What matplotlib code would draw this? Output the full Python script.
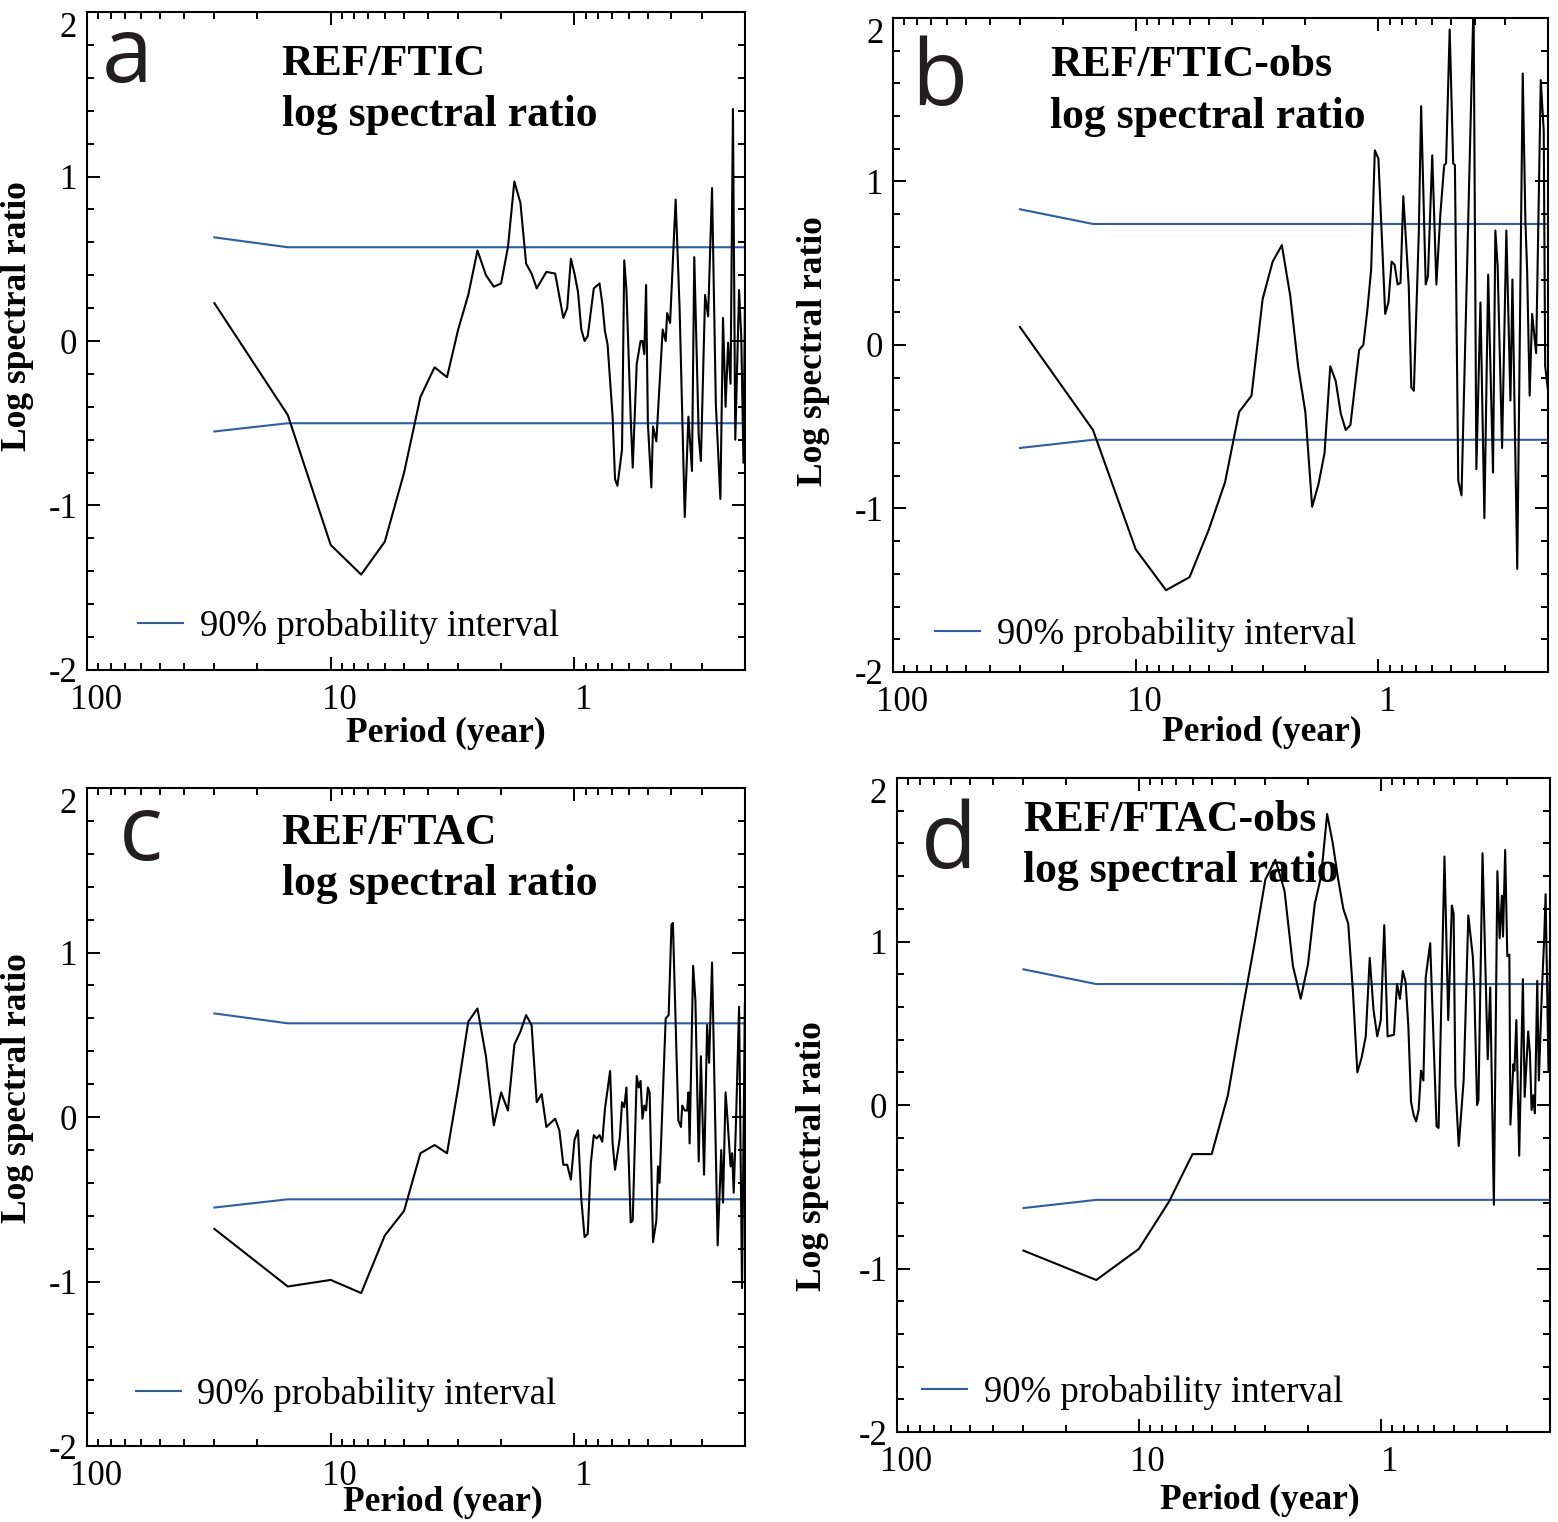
import matplotlib

matplotlib.use("Agg")

import matplotlib.pyplot as plt
import numpy as np
from matplotlib.ticker import FixedLocator, FuncFormatter, LogLocator, MultipleLocator, NullFormatter
from matplotlib.transforms import ScaledTranslation

DPI = 100
FIGSIZE = (15.58, 15.22)

SERIF = ["Liberation Serif", "DejaVu Serif"]
LETTER_FONT = ["Open Sans", "DejaVu Sans"]
BLUE = "#2c5cac"
TICK_SIZE = 25
LABEL_SIZE = 25.5
TITLE_SIZE = 31.5
LEGEND_SIZE = 26.5
LETTER_SIZE = 66

RECORD_YEARS = 30.0
X_LIMITS = (100.0, 0.2)
Y_LIMITS = (-2.0, 2.0)

# harmonic number of each visible vertex (period = RECORD_YEARS / harmonic) and log ratio
HARM_A = [1, 2, 3, 4, 5, 6, 7, 8, 9, 10, 11, 12, 13, 14, 15, 16, 17, 18, 19, 20, 21, 23, 25,
          27, 28, 29, 30, 31, 32, 33, 34, 36, 38, 39, 40, 41, 43, 44, 45, 47, 48, 49, 51, 52,
          54, 56, 57, 58, 59, 60, 62, 63, 65, 69, 71, 72, 74, 78, 81, 85, 88, 91, 93, 97, 99,
          103, 106, 110, 114, 119, 122, 125, 128, 131, 134, 137, 142, 145, 148, 150]
RATIO_A = [0.23, -0.45, -1.24, -1.42, -1.22, -0.80, -0.34, -0.16, -0.22, 0.07, 0.28, 0.55,
           0.40, 0.33, 0.35, 0.57, 0.97, 0.84, 0.47, 0.41, 0.32, 0.42, 0.41,
           0.14, 0.20, 0.50, 0.41, 0.30, 0.07, 0.00, 0.03, 0.32, 0.35, 0.23, 0.06, -0.02,
           -0.46, -0.84, -0.88, -0.66, 0.49, 0.31, -0.46, -0.77,
           -0.14, 0.00, 0.00, -0.08, 0.34, -0.50, -0.89, -0.52, -0.61, 0.07, 0.00, 0.17,
           0.11, 0.86, 0.19, -1.07, -0.46, -0.79, 0.51, -0.58, -0.73,
           0.28, 0.15, 0.93, -0.38, -0.96, 0.14, -0.40, -0.01, -0.26, 1.41, -0.60, 0.31,
           0.02, -0.74, 0.19]

HARM_B = [1, 2, 3, 4, 5, 6, 7, 8, 9, 10, 11, 12, 13, 14, 15, 16, 17, 18, 19, 20, 21, 22, 23,
          25, 26, 27, 28, 29, 30, 32, 33, 34, 35, 36, 37, 38, 40, 41, 42, 44, 45, 47, 48, 50,
          52, 54, 56, 57, 59, 61, 62, 64, 66, 74, 76, 79, 82, 85, 89, 91, 93, 97, 101, 105,
          107, 112, 118, 121, 123, 126, 129, 134, 140, 144, 146, 150]
RATIO_B = [0.11, -0.52, -1.25, -1.50, -1.42, -1.13, -0.84, -0.41, -0.31, 0.28, 0.51, 0.61,
           0.30, -0.13, -0.41, -0.99, -0.85, -0.66, -0.13, -0.22, -0.42, -0.52, -0.49,
           -0.03, 0.00, 0.21, 0.46, 1.19, 1.14, 0.19, 0.26, 0.51, 0.49, 0.37, 0.38, 0.91,
           0.36, -0.26, -0.28, 0.68, 1.46, 0.37, 0.42, 1.16,
           0.37, 0.80, 1.10, 1.11, 1.93, 1.11, 1.10, -0.83, -0.92, 2.10, -0.76, 0.26, -1.06,
           0.43, -0.78, 0.70, 0.48, -0.63, 0.70, -0.34,
           0.40, -1.37, 1.66, 0.76, 0.46, -0.31, 0.19, -0.05, 1.62, 1.31, -0.13, -0.28]

HARM_C = [1, 2, 3, 4, 5, 6, 7, 8, 9, 10, 11, 12, 13, 14, 15, 16, 17, 18, 19, 20, 21, 22, 23,
          25, 26, 27, 28, 29, 30, 31, 32, 33, 34, 35, 36, 37, 38, 39, 40, 42, 43, 44, 46, 47,
          48, 49, 51, 52, 54, 55, 56, 57, 58, 59, 60, 61, 63, 65, 66, 67, 71, 73, 75, 76, 80,
          82, 83, 85, 87, 88, 89, 92, 94, 97, 99, 102, 105, 107, 110, 116, 120, 122, 125,
          127, 131, 133, 135, 138, 142, 146, 150]
RATIO_C = [-0.68, -1.03, -0.99, -1.07, -0.72, -0.57, -0.22, -0.17, -0.22, 0.18, 0.58, 0.66,
           0.37, -0.05, 0.15, 0.04, 0.44, 0.52, 0.62, 0.56, 0.09, 0.14, -0.06,
           -0.01, -0.08, -0.29, -0.29, -0.38, -0.14, -0.08, -0.50, -0.73, -0.71, -0.28, -0.11,
           -0.13, -0.11, -0.15, 0.05, 0.28, -0.16, -0.32, -0.13, 0.09,
           0.06, 0.18, -0.64, -0.63, 0.25, 0.18, 0.22, -0.01, 0.07, 0.04, 0.18, 0.15, -0.76,
           -0.63, -0.30, -0.40, 0.60, 0.62, 1.17, 1.18, -0.02,
           -0.06, 0.07, 0.04, 0.04, 0.15, -0.16, 0.92, 0.71, -0.27, 0.37, -0.35, 0.56, 0.33,
           0.94, -0.78, -0.20, -0.52, 0.15,
           0.01, -0.30, -0.22, -0.46, -0.02, 0.67, -1.04, 0.69]

HARM_D = [1, 2, 3, 4, 5, 6, 7, 8, 9, 10, 11, 12, 13, 14, 15, 16, 17, 18, 19, 20, 21, 22, 23,
          24, 25, 26, 27, 28, 29, 30, 31, 32, 34, 35, 36, 37, 38, 39, 40, 41, 42, 43, 44, 45,
          46, 48, 51, 52, 55, 57, 59, 60, 61, 63, 66, 67, 69, 72, 73, 75, 76, 79, 83, 85, 88,
          91, 93, 95, 96, 98, 100, 102, 103, 106, 107, 109, 112, 116, 118, 122, 124, 126,
          128, 130, 133, 135, 139, 142, 144, 148, 150]
RATIO_D = [-0.89, -1.07, -0.88, -0.59, -0.30, -0.30, 0.06, 0.56, 0.98, 1.38, 1.50, 1.31,
           0.85, 0.65, 0.86, 1.23, 1.40, 1.78, 1.60, 1.38, 1.20, 1.11, 0.70,
           0.20, 0.29, 0.42, 0.90, 0.58, 0.42, 0.52, 1.10, 0.42, 0.43, 0.74, 0.65, 0.82, 0.75,
           0.48, 0.02, -0.06, -0.10, -0.03, 0.21, 0.15,
           0.78, 0.99, -0.13, -0.14, 1.52, 0.52, 1.22, 1.17, 0.13, -0.25, 0.15, 0.48, 1.16,
           0.91, 0.72, 0.00, 0.03, 1.54, 0.28, 0.72, -0.61,
           1.43, 1.02, 1.28, 1.03, 1.56, 0.91, 0.92, -0.12, 0.25, 0.21, 0.52, -0.31, 0.77,
           0.05, 0.45, 0.32, -0.03,
           0.06, -0.05, 0.76, 0.15, 0.70, 1.01, 1.29, 0.21, 0.90]

# 90% probability interval
BAND_PERIOD = [30.0, 15.0, 0.2]
BAND_UPPER_AC = [0.63, 0.57, 0.57]
BAND_LOWER_AC = [-0.55, -0.50, -0.50]
BAND_UPPER_BD = [0.83, 0.74, 0.74]
BAND_LOWER_BD = [-0.63, -0.58, -0.58]

LETTERS = ["a", "b", "c", "d"]
TITLES = ["REF/FTIC\nlog spectral ratio", "REF/FTIC-obs\nlog spectral ratio",
          "REF/FTAC\nlog spectral ratio", "REF/FTAC-obs\nlog spectral ratio"]
LEGEND_TEXT = "90% probability interval"

PANELS = [
    dict(rect=[0.0558, 0.5598, 0.4223, 0.4323], harm=HARM_A, ratio=RATIO_A,
         upper=BAND_UPPER_AC, lower=BAND_LOWER_AC, title_xy=(0.296, 0.951),
         letter_xy=(0.022, 0.894), legend_xy=(0.078, 0.040),
         ylabel_xy=(-0.105, 0.538), xlabel_xy=(0.546, -0.096)),
    dict(rect=[0.5732, 0.5585, 0.4204, 0.4297], harm=HARM_B, ratio=RATIO_B,
         upper=BAND_UPPER_BD, lower=BAND_LOWER_BD, title_xy=(0.240, 0.958),
         letter_xy=(0.027, 0.867), legend_xy=(0.064, 0.031),
         ylabel_xy=(-0.122, 0.490), xlabel_xy=(0.563, -0.093)),
    dict(rect=[0.0558, 0.0499, 0.4223, 0.4323], harm=HARM_C, ratio=RATIO_C,
         upper=BAND_UPPER_AC, lower=BAND_LOWER_AC, title_xy=(0.296, 0.962),
         letter_xy=(0.048, 0.891), legend_xy=(0.074, 0.052),
         ylabel_xy=(-0.105, 0.544), xlabel_xy=(0.541, -0.085)),
    dict(rect=[0.5757, 0.0591, 0.4191, 0.4297], harm=HARM_D, ratio=RATIO_D,
         upper=BAND_UPPER_BD, lower=BAND_LOWER_BD, title_xy=(0.193, 0.967),
         letter_xy=(0.036, 0.862), legend_xy=(0.038, 0.034),
         ylabel_xy=(-0.130, 0.422), xlabel_xy=(0.556, -0.104)),
]

plt.rcParams["font.family"] = SERIF
plt.rcParams["axes.unicode_minus"] = False


def style_axis(fig, ax):
    ax.set_xscale("log")
    ax.set_xlim(*X_LIMITS)
    ax.set_ylim(*Y_LIMITS)
    ax.xaxis.set_major_locator(FixedLocator([100, 10, 1]))
    ax.xaxis.set_major_formatter(FuncFormatter(lambda v, p: f"{v:g}"))
    ax.xaxis.set_minor_locator(LogLocator(base=10, subs=np.arange(2, 10), numticks=20))
    ax.xaxis.set_minor_formatter(NullFormatter())
    ax.yaxis.set_major_locator(FixedLocator([-2, -1, 0, 1, 2]))
    ax.yaxis.set_major_formatter(FuncFormatter(lambda v, p: f"{v:g}"))
    ax.yaxis.set_minor_locator(MultipleLocator(0.2))
    ax.tick_params(which="both", direction="in", top=True, right=True,
                   labelsize=TICK_SIZE, width=1.4, colors="black")
    ax.tick_params(which="major", length=9.5)
    ax.tick_params(which="minor", length=5)
    ax.tick_params(axis="x", which="major", pad=10)
    ax.tick_params(axis="y", which="major", pad=7)
    for spine in ax.spines.values():
        spine.set_linewidth(1.5)

    shift = ScaledTranslation(9 / DPI, 0, fig.dpi_scale_trans)
    for tick in ax.xaxis.get_major_ticks():
        tick.label1.set_transform(tick.label1.get_transform() + shift)
    ax.yaxis.get_major_ticks()[-1].label1.set_va("top")


def draw_panel(fig, cfg, letter, title):
    ax = fig.add_axes(cfg["rect"])
    period = RECORD_YEARS / np.array(cfg["harm"], dtype=float)
    ax.plot(period, cfg["ratio"], color="black", lw=1.5, zorder=3)
    ax.plot(BAND_PERIOD, cfg["upper"], color=BLUE, lw=1.5, zorder=2)
    band, = ax.plot(BAND_PERIOD, cfg["lower"], color=BLUE, lw=1.5, zorder=2)

    style_axis(fig, ax)

    ax.set_xlabel("Period (year)", fontsize=LABEL_SIZE, fontweight="bold", va="center")
    ax.set_ylabel("Log spectral ratio", fontsize=LABEL_SIZE, fontweight="bold", va="center")
    ax.xaxis.set_label_coords(*cfg["xlabel_xy"])
    ax.yaxis.set_label_coords(*cfg["ylabel_xy"])

    ax.text(*cfg["title_xy"], title, transform=ax.transAxes, ha="left", va="top",
            fontsize=TITLE_SIZE, fontweight="bold", linespacing=1.36, zorder=5)
    ax.text(*cfg["letter_xy"], letter, transform=ax.transAxes, ha="left", va="baseline",
            fontsize=LETTER_SIZE, family=LETTER_FONT, color="#231f20")

    ax.legend([band], [LEGEND_TEXT], loc="lower left", bbox_to_anchor=cfg["legend_xy"],
              frameon=False, borderpad=0, borderaxespad=0, handlelength=1.22,
              handletextpad=0.46, fontsize=LEGEND_SIZE)
    return ax


def main():
    fig = plt.figure(figsize=FIGSIZE, dpi=DPI)
    for cfg, letter, title in zip(PANELS, LETTERS, TITLES):
        draw_panel(fig, cfg, letter, title)
    fig.savefig("out.png", dpi=DPI, facecolor="white")
    plt.close(fig)


if __name__ == "__main__":
    main()
